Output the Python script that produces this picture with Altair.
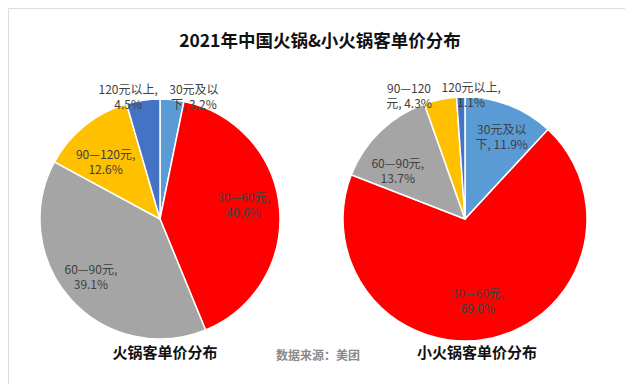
import altair as alt
import pandas as pd

categories = ["30元及以下", "30—60元", "60—90元", "90—120元", "120元以上"]
hotpot_pct = [3.2, 40.6, 39.1, 12.6, 4.5]
small_pct = [11.9, 69.0, 13.7, 4.3, 1.1]
hotpot_labels = ["30元及以\n下, 3.2%", "30—60元,\n40.6%", "60—90元,\n39.1%", "90—120元,\n12.6%", "120元以上,\n4.5%"]
small_labels = ["30元及以\n下, 11.9%", "30—60元,\n69.0%", "60—90元,\n13.7%", "90—120\n元, 4.3%", "120元以上,\n1.1%"]
colors = ["#5B9BD5", "#FF0000", "#A5A5A5", "#FFC000", "#4472C4"]

# label layout: distance from centre (px) and angular nudge (in % of the circle)
hotpot_label_r = [133, 86, 86, 84, 133]
hotpot_label_nudge = [2.5, -2.4, 1.5, -0.4, -1.6]
small_label_r = [96, 76, 87, 142, 131]
small_label_nudge = [0.3, 0.9, -1.8, -3.2, 1.3]

FONT = "Noto Sans CJK SC"

def pie_df(vals, labels, rs, nudges):
    return pd.DataFrame({
        "cat": categories, "pct": vals, "idx": list(range(len(vals))),
        "label": labels, "lr": rs, "nudge": nudges,
    })

color = alt.Color("cat:N", scale=alt.Scale(domain=categories, range=colors), legend=None)
theta_scale = alt.Scale(domain=[0, 100])

def pie(df, cx, cy, r):
    arcs = alt.Chart(df).mark_arc(outerRadius=r, stroke="white", strokeWidth=1.5).encode(
        theta=alt.Theta("pct:Q", stack=True, scale=theta_scale),
        order=alt.Order("idx:Q"),
        color=color, x=alt.value(cx), y=alt.value(cy),
    )
    txt = alt.Chart(df).transform_window(
        cum="sum(pct)", sort=[alt.SortField("idx")], frame=[None, 0]
    ).transform_calculate(
        mid="datum.cum - datum.pct / 2 + datum.nudge"
    ).mark_text(lineBreak="\n", font=FONT, fontSize=12, color="#404040",
                align="center", baseline="middle", lineHeight=15).encode(
        theta=alt.Theta("mid:Q", stack=None, scale=theta_scale),
        text="label:N",
        radius=alt.Radius("lr:Q", scale=None),
        x=alt.value(cx), y=alt.value(cy),
    )
    return arcs + txt

left = pie(pie_df(hotpot_pct, hotpot_labels, hotpot_label_r, hotpot_label_nudge), 152, 211, 120)
right = pie(pie_df(small_pct, small_labels, small_label_r, small_label_nudge), 457, 211, 122)

def label(t, x, y, size, weight, col):
    return alt.Chart(pd.DataFrame({"t": [t]})).mark_text(
        font=FONT, fontSize=size, fontWeight=weight, color=col
    ).encode(text="t:N", x=alt.value(x), y=alt.value(y))

title = label("2021年中国火锅&小火锅客单价分布", 312, 34, 17.5, "bold", "#111111")
sub1 = label("火锅客单价分布", 157, 345, 15, "bold", "#111111")
sub2 = label("小火锅客单价分布", 469, 345, 15, "bold", "#111111")
src = label("数据来源：美团", 310, 348, 12, "bold", "#8a8a8a")

chart = alt.layer(left, right, title, sub1, sub2, src).properties(
    width=617, height=376,
    autosize=alt.AutoSizeParams(type="fit", contains="padding"),
    padding=0,
).configure_view(stroke=None).configure(background="white")

chart.save("out.html", embed_options={"renderer": "svg", "actions": False})
